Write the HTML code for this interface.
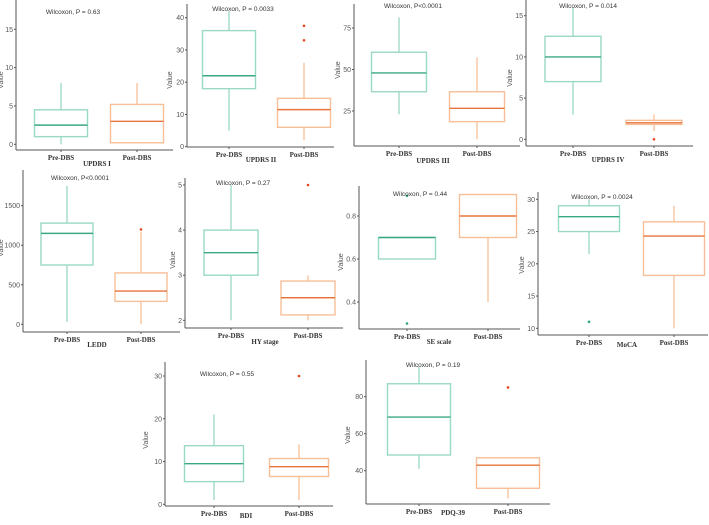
<!DOCTYPE html>
<html><head><meta charset="utf-8"><style>
body{margin:0;background:#fff;width:709px;height:520px;overflow:hidden}
svg text{font-family:"Liberation Sans",sans-serif}
.tk{font-size:7px;fill:#555}
.xl{font-family:"Liberation Serif",serif!important;font-size:7px;font-weight:bold;fill:#333}
.wl{font-size:6.5px;fill:#333}
</style></head><body>
<svg id="fig" width="709" height="520" viewBox="0 0 709 520" xmlns="http://www.w3.org/2000/svg"></svg>
<script>
// Panel data: [whiskerLow, q1, median, q3, whiskerHigh] per group, outliers per group
const titles = ["UPDRS I","UPDRS II","UPDRS III","UPDRS IV","LEDD","HY stage","SE scale","MoCA","BDI","PDQ-39"];
const pvalues = ["Wilcoxon, P = 0.63","Wilcoxon, P = 0.0033","Wilcoxon, P<0.0001","Wilcoxon, P = 0.014","Wilcoxon, P<0.0001","Wilcoxon, P = 0.27","Wilcoxon, P = 0.44","Wilcoxon, P = 0.0024","Wilcoxon, P = 0.55","Wilcoxon, P = 0.19"];
const preStats = [[0,1,2.5,4.5,8],[5,18,22,36,42],[23,36.6,47.9,60.4,81.4],[3,7,10,12.5,16],[30,750,1150,1280,1750],[2,3,3.5,4,5],[0.6,0.6,0.7,0.7,0.7],[21.5,25,27.3,29,30],[1,5.3,9.5,13.7,21],[41,48.5,69,87,96]];
const postStats = [[0.2,0.2,3,5.2,8],[2,6,11.5,15,26],[8,18.6,26.6,36.6,57.3],[1,1.8,2,2.3,3],[0,290,420,650,1170],[2,2.12,2.5,2.87,3],[0.4,0.7,0.8,0.9,0.9],[10,18.2,24.3,26.5,29],[1,6.5,8.8,10.7,14],[25,30.5,43,47,47]];
const preOutliers = [[],[],[],[],[],[],[0.3,0.894],[11],[],[]];
const postOutliers = [[],[33,37.5],[],[0],[1200],[5],[],[],[30],[85]];
const tickLabels = [[0,5,10,15],[0,10,20,30,40],[25,50,75],[0,5,10,15],[0,500,1000,1500],[2,3,4,5],[0.4,0.6,0.8],[10,15,20,25,30],[0,10,20,30],[40,60,80]];
// Layout (pixels)
const layout = [
 {ax:16,ay:150,ar:173,at:0,cal:[0,144.3,15,29.3],cx:[61,137],hw:26.5,tt:[97,166],pv:[73,14],vl:[3,80]},
 {ax:187,ay:147,ar:334,at:4,cal:[0,146.7,40,17.7],cx:[229,304],hw:26.5,tt:[261,162],pv:[243,11],vl:[172,80]},
 {ax:354,ay:146,ar:520,at:4,cal:[25,111,75,28],cx:[399,477],hw:27.5,tt:[433,163],pv:[413,8],vl:[340,70]},
 {ax:526,ay:146,ar:693,at:0,cal:[0,139.3,15,15.7],cx:[573,654],hw:28,tt:[608,162],pv:[588,8],vl:[512,78]},
 {ax:23,ay:332,ar:180,at:170,cal:[0,324.3,1500,205.7],cx:[67,141],hw:26,tt:[97,347],pv:[80,180],vl:[3,248]},
 {ax:185,ay:328,ar:343,at:178,cal:[2,320.3,5,185],cx:[231,308],hw:27,tt:[265,344],pv:[243,185],vl:[175,260]},
 {ax:359,ay:329,ar:520,at:186,cal:[0.4,302,0.8,216],cx:[407,488],hw:28.5,tt:[439,344],pv:[420,196],vl:[343,262]},
 {ax:538,ay:335,ar:708,at:192,cal:[10,328.3,30,199.3],cx:[589,674],hw:30.5,tt:[627,347],pv:[602,199],vl:[524,265]},
 {ax:165,ay:506,ar:333,at:362,cal:[0,504.3,30,376],cx:[214,299],hw:29.5,tt:[246,518],pv:[227,376],vl:[148,440]},
 {ax:366,ay:504,ar:550,at:360,cal:[40,470.7,80,396.7],cx:[419,508],hw:31.5,tt:[453,515],pv:[433,367],vl:[350,435]}
];
const svg=document.getElementById('fig');
const NS='http://www.w3.org/2000/svg';
function mk(tag,attrs,parent){const e=document.createElementNS(NS,tag);for(const k in attrs)e.setAttribute(k,attrs[k]);parent.appendChild(e);return e;}
const groups=["Pre-DBS","Post-DBS"];
const boxCol=["#9ad9c2","#f7bf97"], medCol=["#3aa883","#e8743b"], outCol=["#2aa87a","#e8451e"];
titles.forEach((t,i)=>{
  const L=layout[i];
  const g=mk('g',{},svg);
  
  
  const [v1,p1,v2,p2]=L.cal;
  const y=v=>p1+(v-v1)*(p2-p1)/(v2-v1);
  const ya=mk('line',{x1:L.ax,y1:L.at,x2:L.ax,y2:L.ay,stroke:'#555','stroke-width':1},g);
  
  
  const xa=mk('line',{x1:L.ax,y1:L.ay,x2:L.ar,y2:L.ay,stroke:'#555','stroke-width':1},g);
  
  
  tickLabels[i].forEach(v=>{
    mk('line',{x1:L.ax-2,y1:y(v),x2:L.ax,y2:y(v),stroke:'#555'},g);
    const tx=mk('text',{x:L.ax-3,y:y(v)+2.5,'text-anchor':'end',class:'tk'},g);
    tx.textContent=v;
    
    
  });
  const stats=[preStats[i],postStats[i]], outs=[preOutliers[i],postOutliers[i]];
  [0,1].forEach(k=>{
    const s=stats[k], cx=L.cx[k];
    mk('line',{x1:cx,y1:L.ay,x2:cx,y2:L.ay+2,stroke:'#555'},g);
    const xl=mk('text',{x:cx,y:L.ay+10,'text-anchor':'middle',class:'xl'},g);
    xl.textContent=groups[k];
    
    
    const bg=mk('g',{},g);
    
    
    mk('line',{x1:cx,y1:y(s[0]),x2:cx,y2:y(s[1]),stroke:boxCol[k],'stroke-width':1.3},bg);
    mk('line',{x1:cx,y1:y(s[3]),x2:cx,y2:y(s[4]),stroke:boxCol[k],'stroke-width':1.3},bg);
    mk('rect',{x:cx-L.hw,y:y(s[3]),width:2*L.hw,height:Math.max(0.5,y(s[1])-y(s[3])),fill:'none',stroke:boxCol[k],'stroke-width':1.4},bg);
    mk('line',{x1:cx-L.hw,y1:y(s[2]),x2:cx+L.hw,y2:y(s[2]),stroke:medCol[k],'stroke-width':1.4},bg);
    outs[k].forEach(v=>{
      const c=mk('circle',{cx:cx,cy:y(v),r:1.3,fill:outCol[k]},g);
      
      
    });
  });
  const tt=mk('text',{x:L.tt[0],y:L.tt[1],'text-anchor':'middle',class:'xl'},g);
  tt.textContent=t;
  
  
  const pv=mk('text',{x:L.pv[0],y:L.pv[1],'text-anchor':'middle',class:'wl'},g);
  pv.textContent=pvalues[i];
  
  
  const vl=mk('text',{x:L.vl[0],y:L.vl[1],'text-anchor':'middle',class:'tk',transform:'rotate(-90 '+L.vl[0]+' '+L.vl[1]+')'},g);
  vl.textContent='Value';
  
  
});
</script>
</body></html>
